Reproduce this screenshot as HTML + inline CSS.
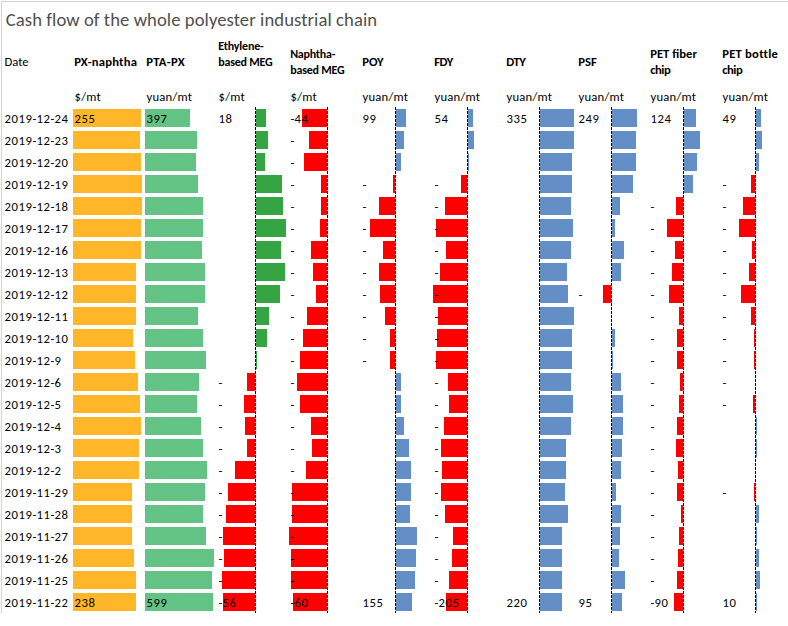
<!DOCTYPE html><html><head><meta charset="utf-8"><title>Cash flow of the whole polyester industrial chain</title><style>
html,body{margin:0;padding:0;background:#fff}
body{width:788px;height:626px;position:relative;overflow:hidden;font-family:Carlito,"Liberation Sans",sans-serif;font-size:12.667px;color:#000}
.b{position:absolute;height:18px;box-sizing:border-box}
.t{position:absolute;white-space:nowrap;line-height:16px;height:16px}
.h{font-weight:bold}
.s{font-size:12px}
.n{letter-spacing:0.58px}
.hy{letter-spacing:0.12px}
.u{letter-spacing:0.22px}
.ax{position:absolute;top:107px;width:1px;height:506px;background:repeating-linear-gradient(to bottom,#000 0,#000 3px,transparent 3px,transparent 4px)}
.fr{position:absolute;background:#d4d4d4}

</style></head><body>
<div class="fr" style="left:1px;top:1px;width:787px;height:1px"></div>
<div class="fr" style="left:1px;top:1px;width:1px;height:612px"></div>
<div class="t" style="left:5.75px;top:9px;font-size:18.667px;line-height:22px;height:22px;letter-spacing:0.067px;color:#4f4f4f">Cash flow of the whole polyester industrial chain</div>
<div class="t" style="left:4.5px;top:54px">Date</div>
<div class="t h" style="left:74.2px;top:54px;letter-spacing:0.21px">PX-naphtha</div>
<div class="t h" style="left:146.2px;top:54px;letter-spacing:0.34px">PTA-PX</div>
<div class="t h s" style="left:218.2px;top:38px;letter-spacing:-0.17px">Ethylene-</div>
<div class="t h s" style="left:218.2px;top:54px;letter-spacing:-0.2px">based MEG</div>
<div class="t h s" style="left:290.2px;top:46px;letter-spacing:-0.23px">Naphtha-</div>
<div class="t h s" style="left:290.2px;top:62px;letter-spacing:-0.2px">based MEG</div>
<div class="t h" style="left:362.2px;top:54px">POY</div>
<div class="t h" style="left:434.2px;top:54px;letter-spacing:-0.4px">FDY</div>
<div class="t h" style="left:506.2px;top:54px;letter-spacing:-0.5px">DTY</div>
<div class="t h" style="left:578.2px;top:54px">PSF</div>
<div class="t h" style="left:650.2px;top:46px">PET fiber</div>
<div class="t h" style="left:650.2px;top:62px;letter-spacing:-0.5px">chip</div>
<div class="t h" style="left:722.2px;top:46px;letter-spacing:0.22px">PET bottle</div>
<div class="t h" style="left:722.2px;top:62px;letter-spacing:-0.5px">chip</div>
<div class="t u" style="left:74.5px;top:89px">$/mt</div>
<div class="t u" style="left:146.5px;top:89px">yuan/mt</div>
<div class="t u" style="left:218.5px;top:89px">$/mt</div>
<div class="t u" style="left:290.5px;top:89px">$/mt</div>
<div class="t u" style="left:362.5px;top:89px">yuan/mt</div>
<div class="t u" style="left:434.5px;top:89px">yuan/mt</div>
<div class="t u" style="left:506.5px;top:89px">yuan/mt</div>
<div class="t u" style="left:578.5px;top:89px">yuan/mt</div>
<div class="t u" style="left:650.5px;top:89px">yuan/mt</div>
<div class="t u" style="left:722.5px;top:89px">yuan/mt</div>
<div class="b" style="left:73px;top:109px;width:68px;background:#FFB628"></div>
<div class="b" style="left:145px;top:109px;width:45px;background:#63C384"></div>
<div class="b" style="left:256px;top:109px;width:10px;background:#35A443"></div>
<div class="b" style="left:302px;top:109px;width:25px;background:#FF0000"></div>
<div class="b" style="left:396px;top:109px;width:10px;background:#638EC6"></div>
<div class="b" style="left:468px;top:109px;width:5px;background:#638EC6"></div>
<div class="b" style="left:540px;top:109px;width:34px;background:#638EC6"></div>
<div class="b" style="left:612px;top:109px;width:25px;background:#638EC6"></div>
<div class="b" style="left:684px;top:109px;width:12px;background:#638EC6"></div>
<div class="b" style="left:756px;top:109px;width:5px;background:#638EC6"></div>
<div class="b" style="left:73px;top:131px;width:67px;background:#FFB628"></div>
<div class="b" style="left:145px;top:131px;width:52px;background:#63C384"></div>
<div class="b" style="left:256px;top:131px;width:12px;background:#35A443"></div>
<div class="b" style="left:309px;top:131px;width:18px;background:#FF0000"></div>
<div class="b" style="left:396px;top:131px;width:8px;background:#638EC6"></div>
<div class="b" style="left:468px;top:131px;width:6px;background:#638EC6"></div>
<div class="b" style="left:540px;top:131px;width:34px;background:#638EC6"></div>
<div class="b" style="left:612px;top:131px;width:24px;background:#638EC6"></div>
<div class="b" style="left:684px;top:131px;width:16px;background:#638EC6"></div>
<div class="b" style="left:756px;top:131px;width:6px;background:#638EC6"></div>
<div class="b" style="left:73px;top:153px;width:68px;background:#FFB628"></div>
<div class="b" style="left:145px;top:153px;width:51px;background:#63C384"></div>
<div class="b" style="left:256px;top:153px;width:9px;background:#35A443"></div>
<div class="b" style="left:304px;top:153px;width:23px;background:#FF0000"></div>
<div class="b" style="left:396px;top:153px;width:5px;background:#638EC6"></div>
<div class="b" style="left:468px;top:153px;width:1px;background:#638EC6"></div>
<div class="b" style="left:540px;top:153px;width:32px;background:#638EC6"></div>
<div class="b" style="left:612px;top:153px;width:24px;background:#638EC6"></div>
<div class="b" style="left:684px;top:153px;width:13px;background:#638EC6"></div>
<div class="b" style="left:756px;top:153px;width:3px;background:#638EC6"></div>
<div class="b" style="left:73px;top:175px;width:69px;background:#FFB628"></div>
<div class="b" style="left:145px;top:175px;width:53px;background:#63C384"></div>
<div class="b" style="left:256px;top:175px;width:26px;background:#35A443"></div>
<div class="b" style="left:321px;top:175px;width:6px;background:#FF0000"></div>
<div class="b" style="left:393px;top:175px;width:2px;background:#FF0000"></div>
<div class="b" style="left:461px;top:175px;width:6px;background:#FF0000"></div>
<div class="b" style="left:540px;top:175px;width:32px;background:#638EC6"></div>
<div class="b" style="left:612px;top:175px;width:21px;background:#638EC6"></div>
<div class="b" style="left:684px;top:175px;width:9px;background:#638EC6"></div>
<div class="b" style="left:751px;top:175px;width:4px;background:#FF0000"></div>
<div class="b" style="left:73px;top:197px;width:69px;background:#FFB628"></div>
<div class="b" style="left:145px;top:197px;width:58px;background:#63C384"></div>
<div class="b" style="left:256px;top:197px;width:27px;background:#35A443"></div>
<div class="b" style="left:321px;top:197px;width:6px;background:#FF0000"></div>
<div class="b" style="left:379px;top:197px;width:16px;background:#FF0000"></div>
<div class="b" style="left:445px;top:197px;width:22px;background:#FF0000"></div>
<div class="b" style="left:540px;top:197px;width:31px;background:#638EC6"></div>
<div class="b" style="left:612px;top:197px;width:8px;background:#638EC6"></div>
<div class="b" style="left:676px;top:197px;width:7px;background:#FF0000"></div>
<div class="b" style="left:743px;top:197px;width:12px;background:#FF0000"></div>
<div class="b" style="left:73px;top:219px;width:68px;background:#FFB628"></div>
<div class="b" style="left:145px;top:219px;width:58px;background:#63C384"></div>
<div class="b" style="left:256px;top:219px;width:30px;background:#35A443"></div>
<div class="b" style="left:320px;top:219px;width:7px;background:#FF0000"></div>
<div class="b" style="left:370px;top:219px;width:25px;background:#FF0000"></div>
<div class="b" style="left:436px;top:219px;width:31px;background:#FF0000"></div>
<div class="b" style="left:540px;top:219px;width:33px;background:#638EC6"></div>
<div class="b" style="left:612px;top:219px;width:3px;background:#638EC6"></div>
<div class="b" style="left:667px;top:219px;width:16px;background:#FF0000"></div>
<div class="b" style="left:739px;top:219px;width:16px;background:#FF0000"></div>
<div class="b" style="left:73px;top:241px;width:68px;background:#FFB628"></div>
<div class="b" style="left:145px;top:241px;width:57px;background:#63C384"></div>
<div class="b" style="left:256px;top:241px;width:25px;background:#35A443"></div>
<div class="b" style="left:311px;top:241px;width:16px;background:#FF0000"></div>
<div class="b" style="left:383px;top:241px;width:12px;background:#FF0000"></div>
<div class="b" style="left:446px;top:241px;width:21px;background:#FF0000"></div>
<div class="b" style="left:540px;top:241px;width:31px;background:#638EC6"></div>
<div class="b" style="left:612px;top:241px;width:12px;background:#638EC6"></div>
<div class="b" style="left:675px;top:241px;width:8px;background:#FF0000"></div>
<div class="b" style="left:752px;top:241px;width:3px;background:#FF0000"></div>
<div class="b" style="left:73px;top:263px;width:63px;background:#FFB628"></div>
<div class="b" style="left:145px;top:263px;width:60px;background:#63C384"></div>
<div class="b" style="left:256px;top:263px;width:29px;background:#35A443"></div>
<div class="b" style="left:313px;top:263px;width:14px;background:#FF0000"></div>
<div class="b" style="left:379px;top:263px;width:16px;background:#FF0000"></div>
<div class="b" style="left:440px;top:263px;width:27px;background:#FF0000"></div>
<div class="b" style="left:540px;top:263px;width:27px;background:#638EC6"></div>
<div class="b" style="left:612px;top:263px;width:9px;background:#638EC6"></div>
<div class="b" style="left:672px;top:263px;width:11px;background:#FF0000"></div>
<div class="b" style="left:749px;top:263px;width:6px;background:#FF0000"></div>
<div class="b" style="left:73px;top:285px;width:63px;background:#FFB628"></div>
<div class="b" style="left:145px;top:285px;width:60px;background:#63C384"></div>
<div class="b" style="left:256px;top:285px;width:24px;background:#35A443"></div>
<div class="b" style="left:316px;top:285px;width:11px;background:#FF0000"></div>
<div class="b" style="left:380px;top:285px;width:15px;background:#FF0000"></div>
<div class="b" style="left:433px;top:285px;width:34px;background:#FF0000"></div>
<div class="b" style="left:540px;top:285px;width:28px;background:#638EC6"></div>
<div class="b" style="left:603px;top:285px;width:8px;background:#FF0000"></div>
<div class="b" style="left:669px;top:285px;width:14px;background:#FF0000"></div>
<div class="b" style="left:741px;top:285px;width:14px;background:#FF0000"></div>
<div class="b" style="left:73px;top:307px;width:63px;background:#FFB628"></div>
<div class="b" style="left:145px;top:307px;width:53px;background:#63C384"></div>
<div class="b" style="left:256px;top:307px;width:13px;background:#35A443"></div>
<div class="b" style="left:307px;top:307px;width:20px;background:#FF0000"></div>
<div class="b" style="left:385px;top:307px;width:10px;background:#FF0000"></div>
<div class="b" style="left:438px;top:307px;width:29px;background:#FF0000"></div>
<div class="b" style="left:540px;top:307px;width:34px;background:#638EC6"></div>
<div class="b" style="left:679px;top:307px;width:4px;background:#FF0000"></div>
<div class="b" style="left:751px;top:307px;width:4px;background:#FF0000"></div>
<div class="b" style="left:73px;top:329px;width:60px;background:#FFB628"></div>
<div class="b" style="left:145px;top:329px;width:58px;background:#63C384"></div>
<div class="b" style="left:256px;top:329px;width:11px;background:#35A443"></div>
<div class="b" style="left:303px;top:329px;width:24px;background:#FF0000"></div>
<div class="b" style="left:390px;top:329px;width:5px;background:#FF0000"></div>
<div class="b" style="left:437px;top:329px;width:30px;background:#FF0000"></div>
<div class="b" style="left:540px;top:329px;width:32px;background:#638EC6"></div>
<div class="b" style="left:612px;top:329px;width:3px;background:#638EC6"></div>
<div class="b" style="left:677px;top:329px;width:6px;background:#FF0000"></div>
<div class="b" style="left:754px;top:329px;width:1px;background:#FF0000"></div>
<div class="b" style="left:73px;top:351px;width:62px;background:#FFB628"></div>
<div class="b" style="left:145px;top:351px;width:61px;background:#63C384"></div>
<div class="b" style="left:256px;top:351px;width:1px;background:#35A443"></div>
<div class="b" style="left:300px;top:351px;width:27px;background:#FF0000"></div>
<div class="b" style="left:390px;top:351px;width:5px;background:#FF0000"></div>
<div class="b" style="left:436px;top:351px;width:31px;background:#FF0000"></div>
<div class="b" style="left:540px;top:351px;width:32px;background:#638EC6"></div>
<div class="b" style="left:612px;top:351px;width:1px;background:#638EC6"></div>
<div class="b" style="left:677px;top:351px;width:6px;background:#FF0000"></div>
<div class="b" style="left:754px;top:351px;width:1px;background:#FF0000"></div>
<div class="b" style="left:73px;top:373px;width:65px;background:#FFB628"></div>
<div class="b" style="left:145px;top:373px;width:54px;background:#63C384"></div>
<div class="b" style="left:247px;top:373px;width:8px;background:#FF0000"></div>
<div class="b" style="left:297px;top:373px;width:30px;background:#FF0000"></div>
<div class="b" style="left:396px;top:373px;width:5px;background:#638EC6"></div>
<div class="b" style="left:448px;top:373px;width:19px;background:#FF0000"></div>
<div class="b" style="left:540px;top:373px;width:31px;background:#638EC6"></div>
<div class="b" style="left:612px;top:373px;width:9px;background:#638EC6"></div>
<div class="b" style="left:680px;top:373px;width:3px;background:#FF0000"></div>
<div class="b" style="left:73px;top:395px;width:67px;background:#FFB628"></div>
<div class="b" style="left:145px;top:395px;width:52px;background:#63C384"></div>
<div class="b" style="left:244px;top:395px;width:11px;background:#FF0000"></div>
<div class="b" style="left:300px;top:395px;width:27px;background:#FF0000"></div>
<div class="b" style="left:396px;top:395px;width:5px;background:#638EC6"></div>
<div class="b" style="left:449px;top:395px;width:18px;background:#FF0000"></div>
<div class="b" style="left:540px;top:395px;width:33px;background:#638EC6"></div>
<div class="b" style="left:612px;top:395px;width:11px;background:#638EC6"></div>
<div class="b" style="left:679px;top:395px;width:4px;background:#FF0000"></div>
<div class="b" style="left:753px;top:395px;width:2px;background:#FF0000"></div>
<div class="b" style="left:73px;top:417px;width:68px;background:#FFB628"></div>
<div class="b" style="left:145px;top:417px;width:56px;background:#63C384"></div>
<div class="b" style="left:245px;top:417px;width:10px;background:#FF0000"></div>
<div class="b" style="left:311px;top:417px;width:16px;background:#FF0000"></div>
<div class="b" style="left:396px;top:417px;width:8px;background:#638EC6"></div>
<div class="b" style="left:444px;top:417px;width:23px;background:#FF0000"></div>
<div class="b" style="left:540px;top:417px;width:31px;background:#638EC6"></div>
<div class="b" style="left:612px;top:417px;width:11px;background:#638EC6"></div>
<div class="b" style="left:677px;top:417px;width:6px;background:#FF0000"></div>
<div class="b" style="left:756px;top:417px;width:1px;background:#638EC6"></div>
<div class="b" style="left:73px;top:439px;width:66px;background:#FFB628"></div>
<div class="b" style="left:145px;top:439px;width:58px;background:#63C384"></div>
<div class="b" style="left:247px;top:439px;width:8px;background:#FF0000"></div>
<div class="b" style="left:312px;top:439px;width:15px;background:#FF0000"></div>
<div class="b" style="left:396px;top:439px;width:13px;background:#638EC6"></div>
<div class="b" style="left:441px;top:439px;width:26px;background:#FF0000"></div>
<div class="b" style="left:540px;top:439px;width:26px;background:#638EC6"></div>
<div class="b" style="left:612px;top:439px;width:10px;background:#638EC6"></div>
<div class="b" style="left:676px;top:439px;width:7px;background:#FF0000"></div>
<div class="b" style="left:756px;top:439px;width:1px;background:#638EC6"></div>
<div class="b" style="left:73px;top:461px;width:66px;background:#FFB628"></div>
<div class="b" style="left:145px;top:461px;width:62px;background:#63C384"></div>
<div class="b" style="left:235px;top:461px;width:20px;background:#FF0000"></div>
<div class="b" style="left:306px;top:461px;width:21px;background:#FF0000"></div>
<div class="b" style="left:396px;top:461px;width:15px;background:#638EC6"></div>
<div class="b" style="left:442px;top:461px;width:25px;background:#FF0000"></div>
<div class="b" style="left:540px;top:461px;width:26px;background:#638EC6"></div>
<div class="b" style="left:612px;top:461px;width:9px;background:#638EC6"></div>
<div class="b" style="left:678px;top:461px;width:5px;background:#FF0000"></div>
<div class="b" style="left:73px;top:483px;width:59px;background:#FFB628"></div>
<div class="b" style="left:145px;top:483px;width:60px;background:#63C384"></div>
<div class="b" style="left:228px;top:483px;width:27px;background:#FF0000"></div>
<div class="b" style="left:292px;top:483px;width:35px;background:#FF0000"></div>
<div class="b" style="left:396px;top:483px;width:15px;background:#638EC6"></div>
<div class="b" style="left:441px;top:483px;width:26px;background:#FF0000"></div>
<div class="b" style="left:540px;top:483px;width:25px;background:#638EC6"></div>
<div class="b" style="left:612px;top:483px;width:4px;background:#638EC6"></div>
<div class="b" style="left:677px;top:483px;width:6px;background:#FF0000"></div>
<div class="b" style="left:754px;top:483px;width:1px;background:#FF0000"></div>
<div class="b" style="left:73px;top:505px;width:59px;background:#FFB628"></div>
<div class="b" style="left:145px;top:505px;width:58px;background:#63C384"></div>
<div class="b" style="left:226px;top:505px;width:29px;background:#FF0000"></div>
<div class="b" style="left:292px;top:505px;width:35px;background:#FF0000"></div>
<div class="b" style="left:396px;top:505px;width:14px;background:#638EC6"></div>
<div class="b" style="left:445px;top:505px;width:22px;background:#FF0000"></div>
<div class="b" style="left:540px;top:505px;width:28px;background:#638EC6"></div>
<div class="b" style="left:612px;top:505px;width:9px;background:#638EC6"></div>
<div class="b" style="left:681px;top:505px;width:2px;background:#FF0000"></div>
<div class="b" style="left:756px;top:505px;width:3px;background:#638EC6"></div>
<div class="b" style="left:73px;top:527px;width:59px;background:#FFB628"></div>
<div class="b" style="left:145px;top:527px;width:61px;background:#63C384"></div>
<div class="b" style="left:223px;top:527px;width:32px;background:#FF0000"></div>
<div class="b" style="left:289px;top:527px;width:38px;background:#FF0000"></div>
<div class="b" style="left:396px;top:527px;width:21px;background:#638EC6"></div>
<div class="b" style="left:453px;top:527px;width:14px;background:#FF0000"></div>
<div class="b" style="left:540px;top:527px;width:22px;background:#638EC6"></div>
<div class="b" style="left:612px;top:527px;width:8px;background:#638EC6"></div>
<div class="b" style="left:679px;top:527px;width:4px;background:#FF0000"></div>
<div class="b" style="left:756px;top:527px;width:1px;background:#638EC6"></div>
<div class="b" style="left:73px;top:549px;width:61px;background:#FFB628"></div>
<div class="b" style="left:145px;top:549px;width:69px;background:#63C384"></div>
<div class="b" style="left:224px;top:549px;width:31px;background:#FF0000"></div>
<div class="b" style="left:291px;top:549px;width:36px;background:#FF0000"></div>
<div class="b" style="left:396px;top:549px;width:20px;background:#638EC6"></div>
<div class="b" style="left:452px;top:549px;width:15px;background:#FF0000"></div>
<div class="b" style="left:540px;top:549px;width:22px;background:#638EC6"></div>
<div class="b" style="left:612px;top:549px;width:7px;background:#638EC6"></div>
<div class="b" style="left:678px;top:549px;width:5px;background:#FF0000"></div>
<div class="b" style="left:756px;top:549px;width:3px;background:#638EC6"></div>
<div class="b" style="left:73px;top:571px;width:63px;background:#FFB628"></div>
<div class="b" style="left:145px;top:571px;width:67px;background:#63C384"></div>
<div class="b" style="left:222px;top:571px;width:33px;background:#FF0000"></div>
<div class="b" style="left:291px;top:571px;width:36px;background:#FF0000"></div>
<div class="b" style="left:396px;top:571px;width:19px;background:#638EC6"></div>
<div class="b" style="left:449px;top:571px;width:18px;background:#FF0000"></div>
<div class="b" style="left:540px;top:571px;width:22px;background:#638EC6"></div>
<div class="b" style="left:612px;top:571px;width:13px;background:#638EC6"></div>
<div class="b" style="left:677px;top:571px;width:6px;background:#FF0000"></div>
<div class="b" style="left:756px;top:571px;width:4px;background:#638EC6"></div>
<div class="b" style="left:73px;top:593px;width:63px;background:#FFB628"></div>
<div class="b" style="left:145px;top:593px;width:68px;background:#63C384"></div>
<div class="b" style="left:223px;top:593px;width:32px;background:#FF0000"></div>
<div class="b" style="left:293px;top:593px;width:34px;background:#FF0000"></div>
<div class="b" style="left:396px;top:593px;width:16px;background:#638EC6"></div>
<div class="b" style="left:446px;top:593px;width:21px;background:#FF0000"></div>
<div class="b" style="left:540px;top:593px;width:22px;background:#638EC6"></div>
<div class="b" style="left:612px;top:593px;width:10px;background:#638EC6"></div>
<div class="b" style="left:674px;top:593px;width:9px;background:#FF0000"></div>
<div class="b" style="left:756px;top:593px;width:1px;background:#638EC6"></div>
<div class="ax" style="left:255px"></div>
<div class="ax" style="left:327px"></div>
<div class="ax" style="left:395px"></div>
<div class="ax" style="left:467px"></div>
<div class="ax" style="left:539px"></div>
<div class="ax" style="left:611px"></div>
<div class="ax" style="left:683px"></div>
<div class="ax" style="left:755px"></div>
<div class="t n" style="left:4.5px;top:111px">2019<span class="hy">-</span>12<span class="hy">-</span>24</div>
<div class="t n" style="left:74.5px;top:111px">255</div>
<div class="t n" style="left:146.5px;top:111px">397</div>
<div class="t n" style="left:218.5px;top:111px">18</div>
<div class="t n" style="left:290.5px;top:111px"><span class="hy">-</span>44</div>
<div class="t n" style="left:362.5px;top:111px">99</div>
<div class="t n" style="left:434.5px;top:111px">54</div>
<div class="t n" style="left:506.5px;top:111px">335</div>
<div class="t n" style="left:578.5px;top:111px">249</div>
<div class="t n" style="left:650.5px;top:111px">124</div>
<div class="t n" style="left:722.5px;top:111px">49</div>
<div class="t n" style="left:4.5px;top:133px">2019<span class="hy">-</span>12<span class="hy">-</span>23</div>
<div class="t" style="left:290.5px;top:133px">-</div>
<div class="t n" style="left:4.5px;top:155px">2019<span class="hy">-</span>12<span class="hy">-</span>20</div>
<div class="t" style="left:290.5px;top:155px">-</div>
<div class="t n" style="left:4.5px;top:177px">2019<span class="hy">-</span>12<span class="hy">-</span>19</div>
<div class="t" style="left:290.5px;top:177px">-</div>
<div class="t" style="left:362.5px;top:177px">-</div>
<div class="t" style="left:434.5px;top:177px">-</div>
<div class="t" style="left:722.5px;top:177px">-</div>
<div class="t n" style="left:4.5px;top:199px">2019<span class="hy">-</span>12<span class="hy">-</span>18</div>
<div class="t" style="left:290.5px;top:199px">-</div>
<div class="t" style="left:362.5px;top:199px">-</div>
<div class="t" style="left:434.5px;top:199px">-</div>
<div class="t" style="left:650.5px;top:199px">-</div>
<div class="t" style="left:722.5px;top:199px">-</div>
<div class="t n" style="left:4.5px;top:221px">2019<span class="hy">-</span>12<span class="hy">-</span>17</div>
<div class="t" style="left:290.5px;top:221px">-</div>
<div class="t" style="left:362.5px;top:221px">-</div>
<div class="t" style="left:434.5px;top:221px">-</div>
<div class="t" style="left:650.5px;top:221px">-</div>
<div class="t" style="left:722.5px;top:221px">-</div>
<div class="t n" style="left:4.5px;top:243px">2019<span class="hy">-</span>12<span class="hy">-</span>16</div>
<div class="t" style="left:290.5px;top:243px">-</div>
<div class="t" style="left:362.5px;top:243px">-</div>
<div class="t" style="left:434.5px;top:243px">-</div>
<div class="t" style="left:650.5px;top:243px">-</div>
<div class="t" style="left:722.5px;top:243px">-</div>
<div class="t n" style="left:4.5px;top:265px">2019<span class="hy">-</span>12<span class="hy">-</span>13</div>
<div class="t" style="left:290.5px;top:265px">-</div>
<div class="t" style="left:362.5px;top:265px">-</div>
<div class="t" style="left:434.5px;top:265px">-</div>
<div class="t" style="left:650.5px;top:265px">-</div>
<div class="t" style="left:722.5px;top:265px">-</div>
<div class="t n" style="left:4.5px;top:287px">2019<span class="hy">-</span>12<span class="hy">-</span>12</div>
<div class="t" style="left:290.5px;top:287px">-</div>
<div class="t" style="left:362.5px;top:287px">-</div>
<div class="t" style="left:434.5px;top:287px">-</div>
<div class="t" style="left:578.5px;top:287px">-</div>
<div class="t" style="left:650.5px;top:287px">-</div>
<div class="t" style="left:722.5px;top:287px">-</div>
<div class="t n" style="left:4.5px;top:309px">2019<span class="hy">-</span>12<span class="hy">-</span>11</div>
<div class="t" style="left:290.5px;top:309px">-</div>
<div class="t" style="left:362.5px;top:309px">-</div>
<div class="t" style="left:434.5px;top:309px">-</div>
<div class="t" style="left:650.5px;top:309px">-</div>
<div class="t" style="left:722.5px;top:309px">-</div>
<div class="t n" style="left:4.5px;top:331px">2019<span class="hy">-</span>12<span class="hy">-</span>10</div>
<div class="t" style="left:290.5px;top:331px">-</div>
<div class="t" style="left:362.5px;top:331px">-</div>
<div class="t" style="left:434.5px;top:331px">-</div>
<div class="t" style="left:650.5px;top:331px">-</div>
<div class="t" style="left:722.5px;top:331px">-</div>
<div class="t n" style="left:4.5px;top:353px">2019<span class="hy">-</span>12<span class="hy">-</span>9</div>
<div class="t" style="left:290.5px;top:353px">-</div>
<div class="t" style="left:362.5px;top:353px">-</div>
<div class="t" style="left:434.5px;top:353px">-</div>
<div class="t" style="left:650.5px;top:353px">-</div>
<div class="t" style="left:722.5px;top:353px">-</div>
<div class="t n" style="left:4.5px;top:375px">2019<span class="hy">-</span>12<span class="hy">-</span>6</div>
<div class="t" style="left:218.5px;top:375px">-</div>
<div class="t" style="left:290.5px;top:375px">-</div>
<div class="t" style="left:434.5px;top:375px">-</div>
<div class="t" style="left:650.5px;top:375px">-</div>
<div class="t" style="left:722.5px;top:375px">-</div>
<div class="t n" style="left:4.5px;top:397px">2019<span class="hy">-</span>12<span class="hy">-</span>5</div>
<div class="t" style="left:218.5px;top:397px">-</div>
<div class="t" style="left:290.5px;top:397px">-</div>
<div class="t" style="left:434.5px;top:397px">-</div>
<div class="t" style="left:650.5px;top:397px">-</div>
<div class="t" style="left:722.5px;top:397px">-</div>
<div class="t n" style="left:4.5px;top:419px">2019<span class="hy">-</span>12<span class="hy">-</span>4</div>
<div class="t" style="left:218.5px;top:419px">-</div>
<div class="t" style="left:290.5px;top:419px">-</div>
<div class="t" style="left:434.5px;top:419px">-</div>
<div class="t" style="left:650.5px;top:419px">-</div>
<div class="t n" style="left:4.5px;top:441px">2019<span class="hy">-</span>12<span class="hy">-</span>3</div>
<div class="t" style="left:218.5px;top:441px">-</div>
<div class="t" style="left:290.5px;top:441px">-</div>
<div class="t" style="left:434.5px;top:441px">-</div>
<div class="t" style="left:650.5px;top:441px">-</div>
<div class="t n" style="left:4.5px;top:463px">2019<span class="hy">-</span>12<span class="hy">-</span>2</div>
<div class="t" style="left:218.5px;top:463px">-</div>
<div class="t" style="left:290.5px;top:463px">-</div>
<div class="t" style="left:434.5px;top:463px">-</div>
<div class="t" style="left:650.5px;top:463px">-</div>
<div class="t n" style="left:4.5px;top:485px">2019<span class="hy">-</span>11<span class="hy">-</span>29</div>
<div class="t" style="left:218.5px;top:485px">-</div>
<div class="t" style="left:290.5px;top:485px">-</div>
<div class="t" style="left:434.5px;top:485px">-</div>
<div class="t" style="left:650.5px;top:485px">-</div>
<div class="t" style="left:722.5px;top:485px">-</div>
<div class="t n" style="left:4.5px;top:507px">2019<span class="hy">-</span>11<span class="hy">-</span>28</div>
<div class="t" style="left:218.5px;top:507px">-</div>
<div class="t" style="left:290.5px;top:507px">-</div>
<div class="t" style="left:434.5px;top:507px">-</div>
<div class="t" style="left:650.5px;top:507px">-</div>
<div class="t n" style="left:4.5px;top:529px">2019<span class="hy">-</span>11<span class="hy">-</span>27</div>
<div class="t" style="left:218.5px;top:529px">-</div>
<div class="t" style="left:290.5px;top:529px">-</div>
<div class="t" style="left:434.5px;top:529px">-</div>
<div class="t" style="left:650.5px;top:529px">-</div>
<div class="t n" style="left:4.5px;top:551px">2019<span class="hy">-</span>11<span class="hy">-</span>26</div>
<div class="t" style="left:218.5px;top:551px">-</div>
<div class="t" style="left:290.5px;top:551px">-</div>
<div class="t" style="left:434.5px;top:551px">-</div>
<div class="t" style="left:650.5px;top:551px">-</div>
<div class="t n" style="left:4.5px;top:573px">2019<span class="hy">-</span>11<span class="hy">-</span>25</div>
<div class="t" style="left:218.5px;top:573px">-</div>
<div class="t" style="left:290.5px;top:573px">-</div>
<div class="t" style="left:434.5px;top:573px">-</div>
<div class="t" style="left:650.5px;top:573px">-</div>
<div class="t n" style="left:4.5px;top:595px">2019<span class="hy">-</span>11<span class="hy">-</span>22</div>
<div class="t n" style="left:74.5px;top:595px">238</div>
<div class="t n" style="left:146.5px;top:595px">599</div>
<div class="t n" style="left:218.5px;top:595px"><span class="hy">-</span>56</div>
<div class="t n" style="left:290.5px;top:595px"><span class="hy">-</span>60</div>
<div class="t n" style="left:362.5px;top:595px">155</div>
<div class="t n" style="left:434.5px;top:595px"><span class="hy">-</span>205</div>
<div class="t n" style="left:506.5px;top:595px">220</div>
<div class="t n" style="left:578.5px;top:595px">95</div>
<div class="t n" style="left:650.5px;top:595px"><span class="hy">-</span>90</div>
<div class="t n" style="left:722.5px;top:595px">10</div>
</body></html>
